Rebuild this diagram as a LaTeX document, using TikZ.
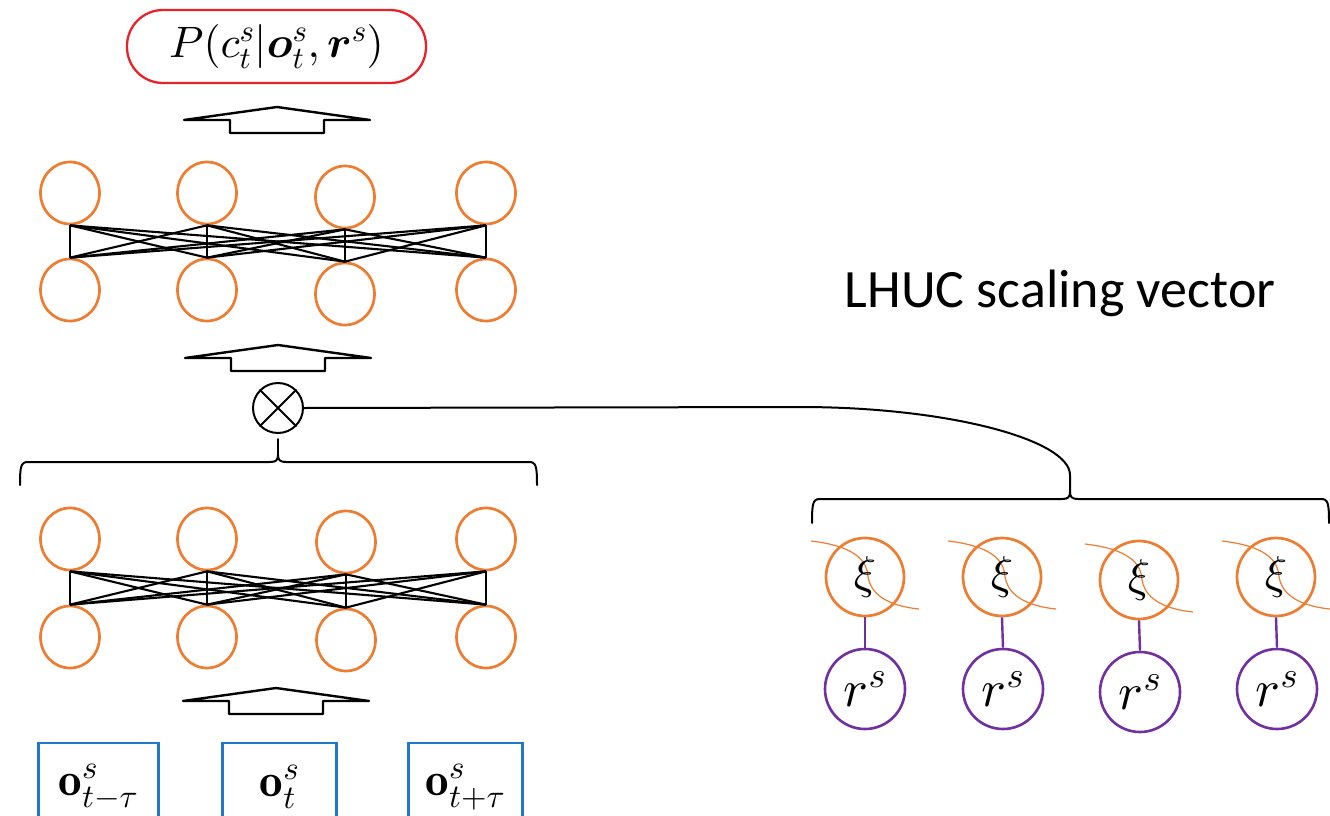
\documentclass[tikz,border=0pt]{standalone}
\usepackage{amsmath}
\usepackage{bm}
\usepackage{fontspec}
\setsansfont{Carlito}
\usetikzlibrary{shapes.geometric}

% scalable math fonts at any size
\DeclareFontShape{OML}{cmm}{m}{it}{<->cmmi10}{}
\DeclareFontShape{OML}{cmm}{b}{it}{<->cmmib10}{}
\DeclareFontShape{OMS}{cmsy}{m}{n}{<->cmsy10}{}
\DeclareFontShape{OMS}{cmsy}{b}{n}{<->cmbsy10}{}
\DeclareFontShape{OMX}{cmex}{m}{n}{<->cmex10}{}
\DeclareFontShape{OT1}{cmr}{m}{n}{<->cmr10}{}
\DeclareFontShape{OT1}{cmr}{bx}{n}{<->cmbx10}{}

\definecolor{nnorange}{HTML}{ED7D31}
\definecolor{pillred}{HTML}{E8222A}
\definecolor{boxblue}{HTML}{1F78C8}
\definecolor{rpurple}{HTML}{7030A0}

\tikzset{
  unit/.style={ellipse, draw=nnorange, line width=2.7pt, minimum width=59pt,
    minimum height=62pt, inner sep=0pt},
  wire/.style={line width=2.1pt, black},
  pill/.style={draw=pillred, line width=2.3pt, rounded corners=36pt,
    minimum width=299pt, minimum height=73pt, inner sep=0pt,
    font=\fontsize{44}{50}\selectfont},
  inbox/.style={draw=boxblue, line width=2.3pt, minimum height=88pt, inner sep=0pt,
    font=\fontsize{47}{52}\selectfont},
  otimes/.style={circle, draw, line width=2pt, minimum size=50pt, inner sep=0pt},
  brace/.style={line width=2pt, black, line cap=round},
  xiunit/.style={circle, draw=nnorange, line width=2.7pt, minimum size=78pt,
    inner sep=0pt, font=\fontsize{46}{50}\selectfont},
  runit/.style={circle, draw=rpurple, line width=2.6pt, minimum size=80pt,
    inner sep=0pt, font=\fontsize{52}{56}\selectfont},
  rlink/.style={line width=2.4pt, rpurple},
  sigcurve/.style={nnorange, line width=1.2pt},
  hollowarrow/.pic={
    \draw[line width=2.4pt, line join=round, fill=white]
      (-93,0) -- (0,-13) -- (93,0) -- (47,0) -- (47,13) -- (-47,13) -- (-47,0) -- cycle;
  }
}

\begin{document}
\begin{tikzpicture}[x=1pt,y=-1pt]
\useasboundingbox (0,0) rectangle (1330,816);
\clip (0,0) rectangle (1330,816);

% output distribution
\node[pill] (out) at (276.5,46.5) {\raisebox{-3pt}{$P(c^s_t|\bm{o}^s_t,\bm{r}^s)$}};
\pic at (277,120) {hollowarrow};

% upper hidden layers
\foreach \i/\x/\dy in {1/70/0,2/207/0,3/345/4,4/486/0}{
  \node[unit] (ua\i) at (\x,193+\dy) {};
  \node[unit] (ub\i) at (\x,290+\dy) {};
}
\foreach \i in {1,...,4}{
  \foreach \j in {1,...,4}{
    \draw[wire] (ua\i.south) -- (ub\j.north);
  }
}

\pic at (278,358) {hollowarrow};

% element-wise product with the scaling vector
\node[otimes] (ot) at (278,408) {};
\draw[line width=2pt] (ot.north west) -- (ot.south east)
                      (ot.north east) -- (ot.south west);

% brace over the lower layers
\coordinate (ltip) at (278,455);
\draw[brace] (20,485) .. controls (20,466) and (21,462) .. (28,462) -- (270,462)
  .. controls (276,462) and (278,460) .. (ltip)
  .. controls (278,460) and (280,462) .. (286,462) -- (529,462)
  .. controls (536,462) and (537,466) .. (537,485);
\draw[brace, shorten >=5pt] (ltip) -- (ot.south);

% lower hidden layers
\foreach \i/\x/\dy in {1/70/0,2/207/0,3/346/3,4/486/0}{
  \node[unit] (la\i) at (\x,539+\dy) {};
  \node[unit] (lb\i) at (\x,637+\dy) {};
}
\foreach \i in {1,...,4}{
  \foreach \j in {1,...,4}{
    \draw[wire] (la\i.south) -- (lb\j.north);
  }
}

\pic at (276,701) {hollowarrow};

% input frames
\node[inbox, minimum width=120pt] (in1) at (98.5,787) {$\mathbf{o}^s_{t-\tau}$};
\node[inbox, minimum width=114pt] (in2) at (279.5,787) {$\mathbf{o}^s_{t}$};
\node[inbox, minimum width=114pt] (in3) at (465.5,787) {$\mathbf{o}^s_{t+\tau}$};

% LHUC units: activation curves first, then the units on top
\foreach \i/\x/\y in {1/865/577,2/1002/577,3/1139/580,4/1276/577}{
  \draw[sigcurve, shift={(\x,\y)}] (-54,-36) .. controls (-20,-32) and (2,-22) .. (3,0)
    .. controls (5,12) and (15,28) .. (54,32);
  \node[xiunit] (xi\i) at (\x,\y) {$\xi$};
}
\foreach \i/\x/\y in {1/865/689,2/1003/689,3/1140/692,4/1277/689}{
  \node[runit] (rs\i) at (\x,\y) {$r^s$};
  \draw[rlink] (xi\i.south) -- (rs\i.north);
}

% brace over the scaling vector
\coordinate (rtip) at (1070,492);
\draw[brace] (812,523) .. controls (812,503) and (813,499) .. (820,499) -- (1062,499)
  .. controls (1068,499) and (1070,497) .. (rtip)
  .. controls (1070,497) and (1072,499) .. (1078,499) -- (1321,499)
  .. controls (1328,499) and (1329,503) .. (1329,523);
\draw[brace] (ot.east) -- (800,407) .. controls (949,407) and (1070,440) .. (1070,475) -- (rtip);

\node[font=\sffamily\fontsize{54}{60}\selectfont, anchor=base] (lhuc) at (1060,307) {LHUC scaling vector};
\end{tikzpicture}
\end{document}
